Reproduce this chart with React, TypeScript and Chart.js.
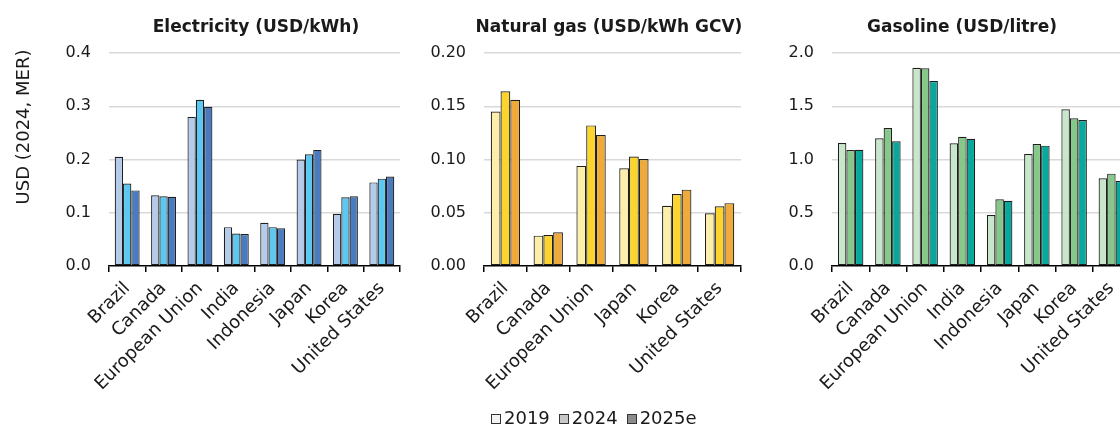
import React, { useEffect, useRef } from 'react';
import { Chart, registerables } from 'chart.js';

Chart.register(...registerables);

// ---------- data ----------
const countries8 = ['Brazil', 'Canada', 'European Union', 'India', 'Indonesia', 'Japan', 'Korea', 'United States'];
const countriesGas = ['Brazil', 'Canada', 'European Union', 'Japan', 'Korea', 'United States'];
const seriesNames = ['2019', '2024', '2025e'];

const elec2019 = [0.205, 0.133, 0.280, 0.073, 0.081, 0.200, 0.098, 0.157];
const elec2024 = [0.155, 0.131, 0.312, 0.061, 0.073, 0.210, 0.129, 0.164];
const elec2025 = [0.142, 0.130, 0.299, 0.060, 0.071, 0.218, 0.131, 0.168];

const gas2019 = [0.145, 0.0285, 0.094, 0.0917, 0.0566, 0.0495];
const gas2024 = [0.164, 0.029, 0.132, 0.1027, 0.0676, 0.056];
const gas2025 = [0.156, 0.0316, 0.123, 0.1005, 0.0717, 0.059];

const petrol2019 = [1.155, 1.199, 1.862, 1.152, 0.479, 1.052, 1.471, 0.823];
const petrol2024 = [1.089, 1.296, 1.856, 1.214, 0.626, 1.146, 1.387, 0.867];
const petrol2025 = [1.092, 1.171, 1.737, 1.195, 0.613, 1.130, 1.371, 0.798];

const elecTicks = { max: 0.4, step: 0.1, decimals: 1 };
const gasTicks = { max: 0.2, step: 0.05, decimals: 2 };
const petrolTicks = { max: 2.0, step: 0.5, decimals: 1 };

const titles = ['Electricity (USD/kWh)', 'Natural gas (USD/kWh GCV)', 'Gasoline (USD/litre)'];
const yAxisTitle = 'USD (2024, MER)';

// ---------- styles ----------
const FONT = '"DejaVu Sans", "Liberation Sans", Arial, sans-serif';
const TEXT = '#1a1a1a';
const elecColors = ['#b4cce9', '#5cc8f2', '#4a7bbf'];
const gasColors = ['#fdeeaa', '#fcd42e', '#eeaa3a'];
const petrolColors = ['#c8e6c9', '#86c88a', '#07a99c'];
const legendColors = ['#f2f2f2', '#c8c8c8', '#8c8c8c'];

const CANVAS_H = 425;
const PLOT_BOTTOM = 266;
const PLOT_TOP = 53;

const textPlugin = {
  id: 'panelText',
  afterDraw(chart: any, _args: any, opts: any) {
    const ctx = chart.ctx;
    ctx.save();
    ctx.fillStyle = TEXT;
    ctx.textAlign = 'center';
    ctx.textBaseline = 'alphabetic';
    ctx.font = `bold 17px ${FONT}`;
    ctx.fillText(opts.title, opts.titleX, opts.titleY);
    if (opts.yTitle) {
      ctx.translate(opts.yTitleX, opts.yTitleY);
      ctx.rotate(-Math.PI / 2);
      ctx.font = `18px ${FONT}`;
      ctx.fillText(opts.yTitle, 0, 0);
    }
    ctx.restore();
  },
};

function makeConfig(
  labels: string[],
  series: number[][],
  colors: string[],
  ticks: { max: number; step: number; decimals: number },
  yWidth: number,
  text: any
): any {
  return {
    type: 'bar',
    data: {
      labels,
      datasets: series.map((d, i) => ({
        label: seriesNames[i],
        data: d,
        backgroundColor: colors[i],
        borderColor: '#1f1f1f',
        borderWidth: 1.2,
        borderSkipped: false,
        categoryPercentage: 0.685,
        barPercentage: 1.0,
      })),
    },
    options: {
      responsive: false,
      animation: false,
      devicePixelRatio: 1,
      layout: { padding: { top: PLOT_TOP, right: 20, bottom: 0, left: 0 } },
      plugins: {
        legend: { display: false },
        tooltip: { enabled: false },
        title: { display: false },
        panelText: text,
      },
      scales: {
        x: {
          type: 'category',
          offset: true,
          grid: {
            display: true,
            offset: true,
            drawOnChartArea: false,
            drawTicks: true,
            tickLength: 6,
            color: '#000',
            lineWidth: 1.5,
          },
          border: { display: true, color: '#000', width: 1.5, z: 1 },
          ticks: {
            autoSkip: false,
            minRotation: 45,
            maxRotation: 45,
            padding: 6,
            color: TEXT,
            font: { family: FONT, size: 18 },
          },
          afterFit: (s: any) => {
            s.height = CANVAS_H - PLOT_BOTTOM;
          },
        },
        y: {
          min: 0,
          max: ticks.max,
          ticks: {
            stepSize: ticks.step,
            padding: 18,
            color: TEXT,
            font: { family: FONT, size: 16 },
            callback: (v: any) => Number(v).toFixed(ticks.decimals),
          },
          grid: {
            drawTicks: false,
            lineWidth: 1.5,
            color: (c: any) => (c.tick && c.tick.value === 0 ? 'rgba(0,0,0,0)' : '#d9d9d9'),
          },
          border: { display: false },
          afterFit: (s: any) => {
            s.width = yWidth;
          },
        },
      },
    },
    plugins: [textPlugin],
  };
}

const panels = [
  { left: 0, width: 420, yWidth: 109 },
  { left: 420, width: 341, yWidth: 64 },
  { left: 760, width: 390, yWidth: 72 },
];

export default function App() {
  const r1 = useRef<HTMLCanvasElement>(null);
  const r2 = useRef<HTMLCanvasElement>(null);
  const r3 = useRef<HTMLCanvasElement>(null);

  useEffect(() => {
    Chart.defaults.font.family = FONT;
    const charts: Chart[] = [];
    charts.push(
      new Chart(
        r1.current as HTMLCanvasElement,
        makeConfig(countries8, [elec2019, elec2024, elec2025], elecColors, elecTicks, panels[0].yWidth, {
          title: titles[0],
          titleX: 256,
          titleY: 32,
          yTitle: yAxisTitle,
          yTitleX: 29,
          yTitleY: 127,
        })
      )
    );
    charts.push(
      new Chart(
        r2.current as HTMLCanvasElement,
        makeConfig(countriesGas, [gas2019, gas2024, gas2025], gasColors, gasTicks, panels[1].yWidth, {
          title: titles[1],
          titleX: 609 - panels[1].left,
          titleY: 32,
        })
      )
    );
    charts.push(
      new Chart(
        r3.current as HTMLCanvasElement,
        makeConfig(countries8, [petrol2019, petrol2024, petrol2025], petrolColors, petrolTicks, panels[2].yWidth, {
          title: titles[2],
          titleX: 962 - panels[2].left,
          titleY: 32,
        })
      )
    );
    return () => charts.forEach((c) => c.destroy());
  }, []);

  const refs = [r1, r2, r3];

  return (
    <div
      style={{
        position: 'absolute',
        left: 0,
        top: 0,
        width: 1120,
        height: 425,
        overflow: 'hidden',
        background: '#fff',
      }}
    >
      {panels.map((p, i) => (
        <div key={i} style={{ position: 'absolute', left: p.left, top: 0, width: p.width, height: CANVAS_H }}>
          <canvas ref={refs[i]} width={p.width} height={CANVAS_H} style={{ display: 'block' }} />
        </div>
      ))}
      <div
        style={{
          position: 'absolute',
          left: 491,
          top: 409,
          font: `18px ${FONT}`,
          lineHeight: '18px',
          color: TEXT,
          whiteSpace: 'nowrap',
        }}
      >
        {seriesNames.map((n, i) => (
          <span key={n} style={{ marginRight: 9 }}>
            <span
              style={{
                display: 'inline-block',
                width: 10,
                height: 10,
                boxSizing: 'border-box',
                border: '1px solid #333',
                background: legendColors[i],
                marginRight: 3,
              }}
            />
            {n}
          </span>
        ))}
      </div>
    </div>
  );
}
